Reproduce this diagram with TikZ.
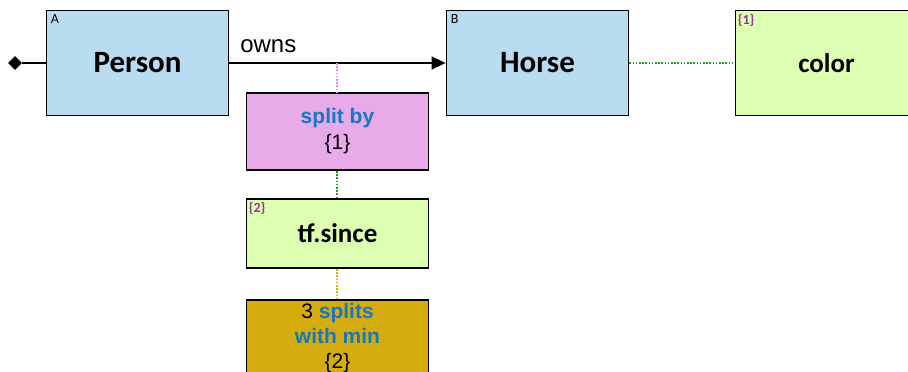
\documentclass[tikz,border=0pt]{standalone}
\usepackage{fontspec}
\setmainfont{Liberation Sans}
\newfontfamily\carlitofam{Carlito}
\usetikzlibrary{arrows.meta,shapes.geometric}
\definecolor{entfill}{HTML}{B9DCF1}
\definecolor{attrfill}{HTML}{DDFFB2}
\definecolor{pinkfill}{HTML}{E8AAE8}
\definecolor{goldfill}{HTML}{D4AC0D}
\definecolor{bluetxt}{HTML}{1478C4}
\definecolor{purptxt}{HTML}{993399}
\definecolor{dotgreen}{HTML}{1EA01E}
\definecolor{dotpink}{HTML}{E88AE8}
\definecolor{dotorange}{HTML}{E8A400}
\begin{document}
\begin{tikzpicture}[x=1pt,y=-1pt,
  box/.style={draw=black,line width=1.8pt,minimum width=182pt,inner sep=0pt,align=center},
  ent/.style={box,fill=entfill,minimum height=105pt,font=\carlitofam\fontsize{31}{35}\selectfont\bfseries},
  attr/.style={box,fill=attrfill,minimum height=105pt,font=\carlitofam\fontsize{27}{31}\selectfont\bfseries},
  opbox/.style={box,font=\fontsize{21}{25}\selectfont},
  tag/.style={anchor=north west,inner sep=0pt,font=\carlitofam\fontsize{14}{16}\selectfont},
  ptag/.style={tag,text=purptxt,font=\carlitofam\fontsize{14}{16}\selectfont\bfseries},
  dotline/.style={line width=1.6pt,dash pattern=on 1.6pt off 1.6pt}
]
\useasboundingbox (0,0) rectangle (908,372);
\clip (0,0) rectangle (908,372);
\node[ent] (person) at (137.5,63) {Person};
\node[ent] (horse) at (537.5,63) {Horse};
\node[attr] (color) at (826.5,63) {color};
\node[opbox,fill=pinkfill,minimum height=77pt] (split) at (337.5,131.5) {\textcolor{bluetxt}{\bfseries split by}\\[1pt]\{1\}};
\node[attr,minimum height=69pt] (since) at (337.5,233.5) {tf.since};
\node[opbox,fill=goldfill,minimum height=77pt] (splits) at (337.5,338.5) {3 \textcolor{bluetxt}{\bfseries splits}\\\textcolor{bluetxt}{\bfseries with min}\\\{2\}};
\node[tag] (ta) at ([xshift=5pt,yshift=-5pt]person.north west) {A};
\node[tag] (tb) at ([xshift=5pt,yshift=-5pt]horse.north west) {B};
\node[ptag] (t1) at ([xshift=3pt,yshift=-4pt]color.north west) {\{1\}};
\node[ptag] (t2) at ([xshift=3pt,yshift=-4pt]since.north west) {\{2\}};
\node[diamond,fill=black,inner sep=0pt,minimum width=14pt,minimum height=14pt] (dia) at (15,63) {};
\draw[line width=1.6pt] (dia) -- (person.west);
\draw[line width=1.6pt,-{Triangle[length=14pt,width=13pt]}] (person.east) -- node[pos=0.18,above=9pt,font=\fontsize{24}{28}\selectfont,inner sep=0pt] (owns) {owns} (horse.west);
\coordinate (mid) at (337,63);
\draw[dotline,dotpink] (mid) -- (mid|-split.north);
\draw[dotline,dotgreen] ([xshift=-0.5pt]split.south) -- ([xshift=-0.5pt]since.north);
\draw[dotline,dotorange] ([xshift=-0.5pt]since.south) -- ([xshift=-0.5pt]splits.north);
\draw[dotline,dotgreen] (horse.east) -- (color.west);
\end{tikzpicture}
\end{document}
